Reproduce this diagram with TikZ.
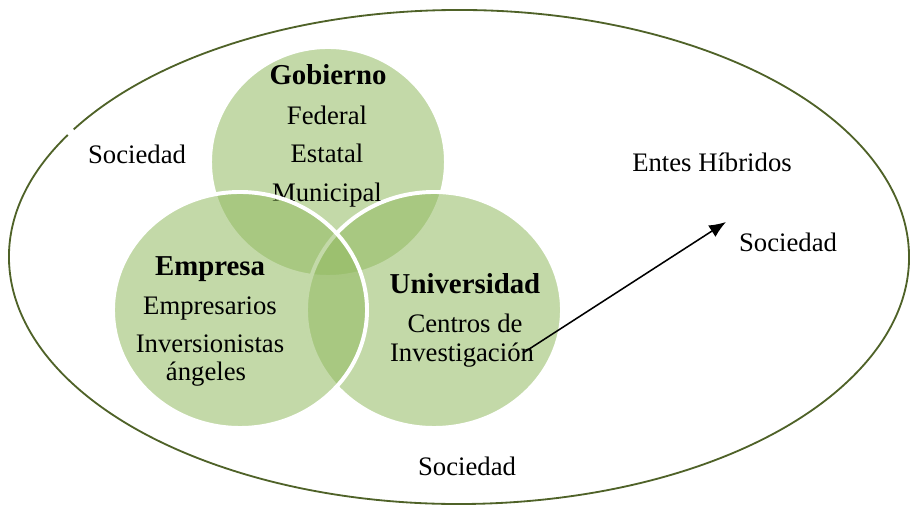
\documentclass[tikz,border=0pt]{standalone}
\usepackage{fontspec}
\setmainfont{Liberation Serif}
\usetikzlibrary{arrows.meta}
\definecolor{venngreen}{RGB}{146,186,97}
\definecolor{ringgreen}{RGB}{79,98,40}
\tikzset{
	venn/.style={fill=venngreen, fill opacity=0.55, draw=white, line width=2.8pt},
	txt/.style={anchor=base, inner sep=0pt, font=\fontsize{19}{23}\selectfont},
	btxt/.style={anchor=base, inner sep=0pt, font=\fontsize{20.5}{24}\selectfont\bfseries}
}

\begin{document}
\begin{tikzpicture}
			%%%%% START %%%%%
			\useasboundingbox (0, 0) rectangle (22.8, 12.625);
			
			% outer ring, with its small gap on the upper left
			\draw[line width=1.3pt, color=ringgreen] (11.475, 6.2) ++(150.4:11.25 and 6.175) arc[start angle=150.4, end angle=508.9, x radius=11.25, y radius=6.175];
			
			\draw[venn] (8.2, 8.575) ellipse (2.95 and 2.875);
			\node[btxt] (gob) at (8.2, 10.5) {Gobierno};
			\node[txt] (fed) at (8.175, 9.5) {Federal};
			\node[txt] (est) at (8.175, 8.55) {Estatal};
			\node[txt] (mun) at (8.175, 7.575) {Municipal};
			
			\draw[venn] (10.85, 4.875) ellipse (3.2 and 2.95);
			\draw[venn] (6.0, 4.875) ellipse (3.175 and 2.95);
			
			\node[btxt] (emp) at (5.25, 5.725) {Empresa};
			\node[txt] (empr) at (5.25, 4.75) {Empresarios};
			\node[txt] (inv) at (5.25, 3.82) {Inversionistas};
			\node[txt] (ang) at (5.15, 3.12) {ángeles};
			
			\node[btxt] (uni) at (11.625, 5.275) {Universidad};
			\node[txt] (cen) at (11.625, 4.3) {Centros de};
			\node[txt] (invest) at (11.55, 3.575) {Investigación};
			
			\node[txt] (entes) at (17.8, 8.325) {Entes Híbridos};
			\node[txt] (socl) at (3.425, 8.525) {Sociedad};
			\node[txt] (socr) at (19.7, 6.325) {Sociedad};
			\node[txt] (socb) at (11.675, 0.725) {Sociedad};
			
			\coordinate (from) at (13.075, 3.8);
			\coordinate (tip) at (18.15, 7.075);
			\draw[-{Latex[length=0.42cm, width=0.34cm]}, line width=1.1pt] (from) -- (tip);
			
			%%%%% END %%%%%
\end{tikzpicture}
\end{document}
